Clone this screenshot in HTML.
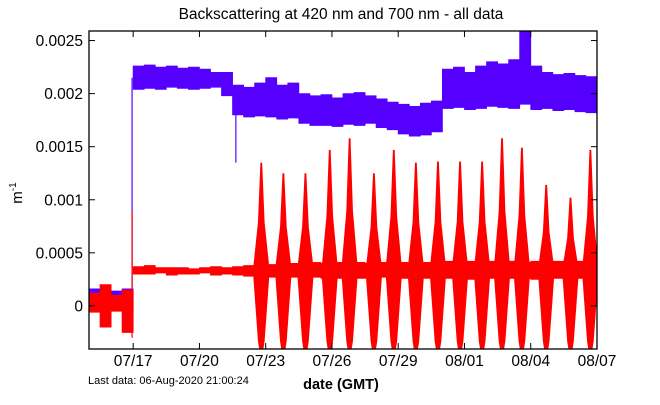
<!DOCTYPE html>
<html><head><meta charset="utf-8"><style>
body{margin:0;background:#fff;}
svg{display:block;font-family:"Liberation Sans",sans-serif;}
</style></head><body>
<svg id="chart" width="660" height="405" viewBox="0 0 660 405">
<rect x="0" y="0" width="660" height="405" fill="#fff"/>
<text x="341" y="19" font-size="15.5" text-anchor="middle">Backscattering at 420 nm and 700 nm - all data</text>
<g id="plot"></g>
<g id="axes"></g>
<text transform="translate(22,193) rotate(-90)" font-size="15" text-anchor="middle">m<tspan dy="-6" font-size="10">-1</tspan></text>
<text x="341" y="389" font-size="14.5" font-weight="bold" text-anchor="middle">date (GMT)</text>
<text x="88" y="384" font-size="11">Last data: 06-Aug-2020 21:00:24</text>
</svg>
<script>
// values in units of 1e-4 m^-1; bins of 0.5 day starting 07/15 00:00
const blueLo=[0.3,0.2,0.3,-0.4,20.4,20.5,20.4,20.6,20.5,20.4,20.5,20.6,19.8,18.0,17.8,17.9,17.8,17.6,17.7,17.2,17.0,17.0,16.9,17.1,17.0,17.2,16.8,16.6,16.2,16.0,16.1,16.4,18.6,18.7,18.5,18.6,18.8,18.7,18.6,19.0,18.5,18.6,18.4,18.5,18.3,18.2];
const blueHi=[1.6,1.5,1.4,1.6,22.6,22.7,22.5,22.6,22.4,22.5,22.3,22.0,22.0,20.8,20.6,21.0,21.5,20.8,21.0,20.0,19.8,19.9,19.6,20.0,20.1,19.8,19.5,19.2,19.0,18.8,19.1,19.3,22.3,22.5,22.0,22.6,23.0,22.8,23.2,26.0,22.6,22.0,21.8,21.9,21.7,21.6];
const redLo=[-0.6,-2.0,-0.5,-2.5,3.0,3.0,3.1,2.9,3.0,3.0,3.1,2.9,3.0,2.9,2.8,2.8,2.7,2.7,2.7,2.8,2.7,2.6,2.6,2.7,2.6,2.6,2.7,2.6,2.6,2.7,2.6,2.6,2.6,2.6,2.5,2.6,2.6,2.5,2.6,2.6,2.5,2.6,2.6,2.5,2.6,2.6];
const redHi=[1.2,2.0,1.0,1.5,3.7,3.8,3.6,3.6,3.6,3.5,3.6,3.7,3.6,3.7,3.8,3.9,3.9,3.9,4.0,4.0,4.1,4.0,4.1,4.0,4.1,4.0,4.1,4.0,4.1,4.2,4.1,4.1,4.2,4.1,4.2,4.1,4.2,4.1,4.2,4.1,4.2,4.1,4.2,4.1,4.2,4.1];
const spikeDay=[7.8,8.8,9.8,10.9,11.8,12.9,13.8,14.8,15.8,16.8,17.8,18.7,19.6,20.7,21.8,22.7];
const spikeTop=[13.5,12.5,12.5,14.7,15.8,12.5,14.7,13.5,13.6,13.6,13.6,15.8,14.9,11.4,10.2,14.7];
const spikeBottom=[-4.5,-4.5,-4.5,-4.5,-4.5,-4.5,-4.5,-4.5,-4.5,-4.5,-4.5,-4.5,-4.5,-4.5,-4.5,-4.5];
const yTicks=[0,5,10,15,20,25];
const yTickLabels=["0","0.0005","0.001","0.0015","0.002","0.0025"];
const xTickDays=[2,5,8,11,14,17,20,23];
const xTickLabels=["07/17","07/20","07/23","07/26","07/29","08/01","08/04","08/07"];
const binWidth=0.5;

const L=89,R=597,T=31,B=349,D0=0,D1=23,V0=-4.06,V1=25.9;
const NS="http://www.w3.org/2000/svg";
function xs(d){return L+(d-D0)/(D1-D0)*(R-L);}
function ys(v){return B-(v-V0)/(V1-V0)*(B-T);}
const plot=document.getElementById('plot');
const axes=document.getElementById('axes');
function mk(tag,attrs,parent){const e=document.createElementNS(NS,tag);for(const k in attrs)e.setAttribute(k,attrs[k]);parent.appendChild(e);return e;}
const clip=mk('clipPath',{id:'pc'},document.getElementById('chart'));
mk('rect',{x:L,y:T,width:R-L,height:B-T},clip);
plot.setAttribute('clip-path','url(#pc)');

function band(lo,hi,color,name,i0,i1){
  const top=[],bot=[];
  for(let i=i0;i<i1;i++){
    const xa=xs(i*binWidth),xb=xs((i+1)*binWidth);
    top.push(xa+','+ys(hi[i]),xb+','+ys(hi[i]));
    bot.unshift(xb+','+ys(lo[i]),xa+','+ys(lo[i]));
  }
  const p=mk('polygon',{points:top.concat(bot).join(' '),fill:color,stroke:color,'stroke-width':0.8,'stroke-linejoin':'round'},plot);
  
  
}
band(blueLo,blueHi,'#5500ff','bb420-band-early',0,4);
band(blueLo,blueHi,'#5500ff','bb420-band',4,blueLo.length);
const bj=mk('line',{x1:xs(1.95),x2:xs(1.95),y1:ys(1),y2:ys(21.5),stroke:'#5500ff','stroke-width':1.2},plot);


const bd=mk('line',{x1:xs(6.65),x2:xs(6.65),y1:ys(18),y2:ys(13.5),stroke:'#5500ff','stroke-width':1.2},plot);


band(redLo,redHi,'#ff0000','bb700-band-early',0,4);
band(redLo,redHi,'#ff0000','bb700-band',4,redLo.length);
const rj=mk('line',{x1:xs(1.95),x2:xs(1.95),y1:ys(-3),y2:ys(8.9),stroke:'#ff0000','stroke-width':1.2},plot);


for(let i=0;i<spikeDay.length;i++){
  const d=spikeDay[i],t=spikeTop[i],b=spikeBottom[i],m=3.3;
  const pts=[[d-0.38,m],[d-0.15,m+(t-m)*0.45],[d-0.04,t],[d+0.04,t],[d+0.15,m+(t-m)*0.45],[d+0.38,m],[d+0.15,m+(b-m)*0.85],[d+0.06,b],[d-0.06,b],[d-0.15,m+(b-m)*0.85]];
  const p=mk('polygon',{points:pts.map(q=>xs(q[0])+','+ys(q[1])).join(' '),fill:'#ff0000'},plot);
  
  
}
const fr=mk('rect',{x:L,y:T,width:R-L,height:B-T,fill:'none',stroke:'#000','stroke-width':1.3},axes);


for(let i=0;i<yTicks.length;i++){
  const y=ys(yTicks[i]);
  const t1=mk('line',{x1:L,x2:L+6,y1:y,y2:y,stroke:'#000'},axes);
  
  
  const t2=mk('line',{x1:R-6,x2:R,y1:y,y2:y,stroke:'#000'},axes);
  
  
  const tx=mk('text',{x:L-6,y:y+5.5,'font-size':15.5,'text-anchor':'end'},axes);
  tx.textContent=yTickLabels[i];
  
  
}
for(let i=0;i<xTickDays.length;i++){
  const x=xs(xTickDays[i]);
  const t1=mk('line',{x1:x,x2:x,y1:B,y2:B-6,stroke:'#000'},axes);
  
  
  const t2=mk('line',{x1:x,x2:x,y1:T,y2:T+6,stroke:'#000'},axes);
  
  
  const tx=mk('text',{x:x,y:366,'font-size':15.5,'text-anchor':'middle'},axes);
  tx.textContent=xTickLabels[i];
  
  
}
</script>
</body></html>
